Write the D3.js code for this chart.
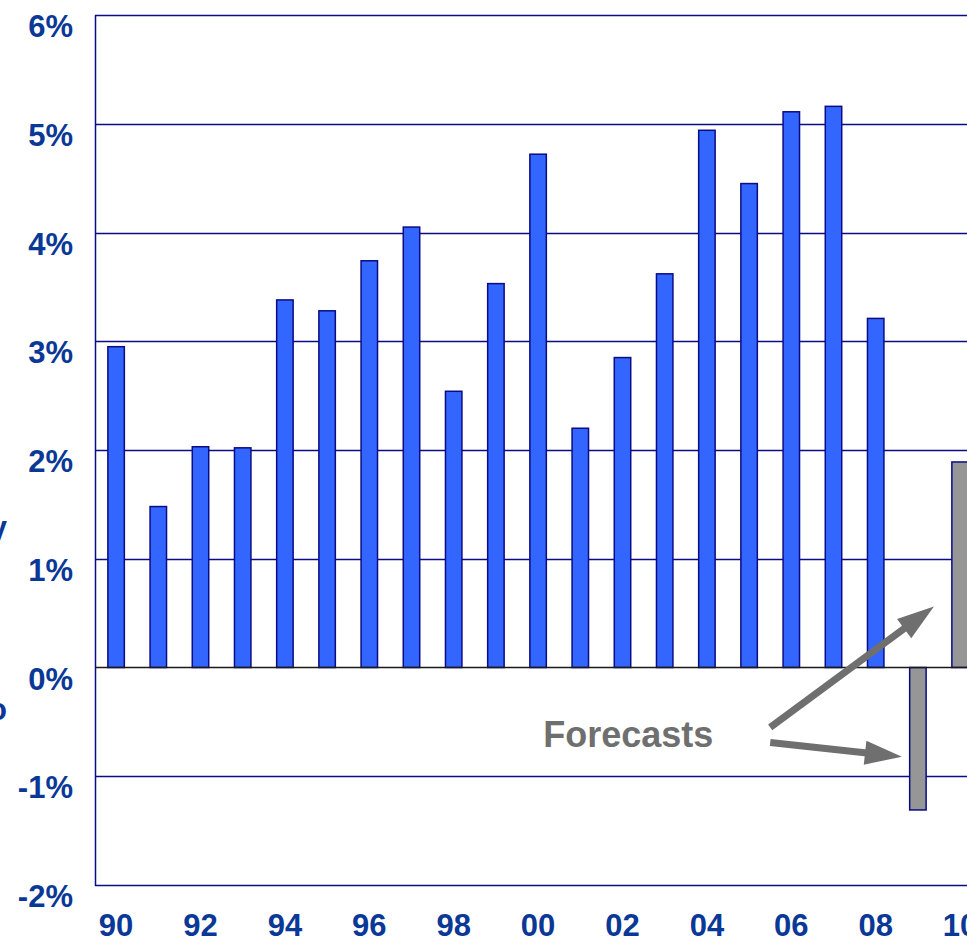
<!DOCTYPE html>
<html>
<head>
<meta charset="utf-8">
<script src="https://cdn.jsdelivr.net/npm/d3@7/dist/d3.min.js"></script>
<style>
  html, body { margin: 0; padding: 0; background: #fff; overflow: hidden; }
  svg { display: block; }
  text { font-family: "Liberation Sans", Arial, Helvetica, sans-serif; font-weight: bold; }
</style>
</head>
<body>
<svg id="chart" width="967" height="941"></svg>
<script>
// Annual growth, 1990-2008 actual, 2009-2010 forecast
const years = [1990,1991,1992,1993,1994,1995,1996,1997,1998,1999,2000,2001,2002,2003,2004,2005,2006,2007,2008,2009,2010];
const growth = [2.95,1.48,2.03,2.02,3.38,3.28,3.74,4.05,2.54,3.53,4.72,2.20,2.85,3.62,4.94,4.45,5.11,5.16,3.21,-1.31,1.89];
const isForecast = [false,false,false,false,false,false,false,false,false,false,false,false,false,false,false,false,false,false,false,true,true];
const yTicks = [-2,-1,0,1,2,3,4,5,6];
const yTickLabels = ["-2%","-1%","0%","1%","2%","3%","4%","5%","6%"];
const xTickYears = [1990,1992,1994,1996,1998,2000,2002,2004,2006,2008,2010];
const xTickLabels = ["90","92","94","96","98","00","02","04","06","08","10"];
const noteText = "Forecasts";
const sideNotes = ["Real GDP Growth, y/y", "Year-over-Year Ratio"];

const svg = d3.select("#chart");
const plotLeft = 95, plotTop = 15, plotBottom = 885;
const step = 42.2;

const x = d3.scaleBand()
  .domain(years)
  .range([plotLeft, plotLeft + step * years.length])
  .paddingInner(0.61)
  .paddingOuter(0.305);

const y = d3.scaleLinear().domain([-2, 6]).range([plotBottom, plotTop]);

const navy = "#0b0b85";
const textBlue = "#0a3896";
const grey = "#6f6f6f";

// gridlines
svg.append("g").selectAll("line")
  .data(yTicks.filter(d => d !== 0))
  .join("line")
  .attr("x1", plotLeft).attr("x2", 967)
  .attr("y1", d => Math.round(y(d)) + 0.5).attr("y2", d => Math.round(y(d)) + 0.5)
  .attr("stroke", navy).attr("stroke-width", 1.3);

// left frame
svg.append("line")
  .attr("x1", plotLeft + 0.5).attr("x2", plotLeft + 0.5)
  .attr("y1", y(6)).attr("y2", y(-2) + 1)
  .attr("stroke", navy).attr("stroke-width", 1.5);

// bars
svg.append("g").selectAll("rect")
  .data(years.map((yr, i) => ({ yr, v: growth[i], f: isForecast[i] })))
  .join("rect")
  .attr("x", d => x(d.yr))
  .attr("width", x.bandwidth())
  .attr("y", d => y(Math.max(0, d.v)))
  .attr("height", d => Math.abs(y(d.v) - y(0)))
  .attr("fill", d => d.f ? "#969696" : "#3366ff")
  .attr("stroke", navy)
  .attr("stroke-width", 1.5);

// zero line
svg.append("line")
  .attr("x1", plotLeft).attr("x2", 967)
  .attr("y1", y(0)).attr("y2", y(0))
  .attr("stroke", "#1a1a1a").attr("stroke-width", 1.5);

// y tick labels
svg.append("g").selectAll("text")
  .data(yTicks)
  .join("text")
  .attr("x", 73)
  .attr("y", d => y(d) + 22)
  .attr("text-anchor", "end")
  .attr("font-size", 31)
  .attr("fill", textBlue)
  .text((d, i) => yTickLabels[i]);

// x tick labels
svg.append("g").selectAll("text")
  .data(xTickYears)
  .join("text")
  .attr("x", d => x(d) + x.bandwidth() / 2)
  .attr("y", 936)
  .attr("text-anchor", "middle")
  .attr("font-size", 31)
  .attr("fill", textBlue)
  .text((d, i) => xTickLabels[i]);

// side notes running off the left edge
svg.append("g").selectAll("text")
  .data(sideNotes)
  .join("text")
  .attr("x", 7)
  .attr("y", (d, i) => [538, 720][i])
  .attr("text-anchor", "end")
  .attr("font-size", 31)
  .attr("fill", textBlue)
  .text(d => d);

// forecast annotation
const cx = yr => x(yr) + x.bandwidth() / 2;
const px = (yr, off) => cx(yr) + off * step;

svg.append("text")
  .attr("x", px(2001, -0.88))
  .attr("y", y(-0.73))
  .attr("font-size", 36)
  .attr("fill", grey)
  .text(noteText);

const arrows = [
  { x0: px(2006, -0.5), y0: y(-0.55), x1: px(2010, -0.62), y1: y(0.56) },
  { x0: px(2006, -0.5), y0: y(-0.69), x1: px(2009, -0.38), y1: y(-0.82) }
];
const headLen = 37, headHalf = 12;
const ag = svg.append("g");
arrows.forEach(a => {
  const dx = a.x1 - a.x0, dy = a.y1 - a.y0;
  const L = Math.hypot(dx, dy);
  const ux = dx / L, uy = dy / L;
  const bx = a.x1 - ux * headLen, by = a.y1 - uy * headLen;
  ag.append("line")
    .attr("x1", a.x0).attr("y1", a.y0)
    .attr("x2", bx + ux * 2).attr("y2", by + uy * 2)
    .attr("stroke", grey).attr("stroke-width", 7);
  ag.append("path")
    .attr("d", d3.line()([
      [a.x1, a.y1],
      [bx - uy * headHalf, by + ux * headHalf],
      [bx + uy * headHalf, by - ux * headHalf]
    ]) + "Z")
    .attr("fill", grey);
});
</script>
</body>
</html>
